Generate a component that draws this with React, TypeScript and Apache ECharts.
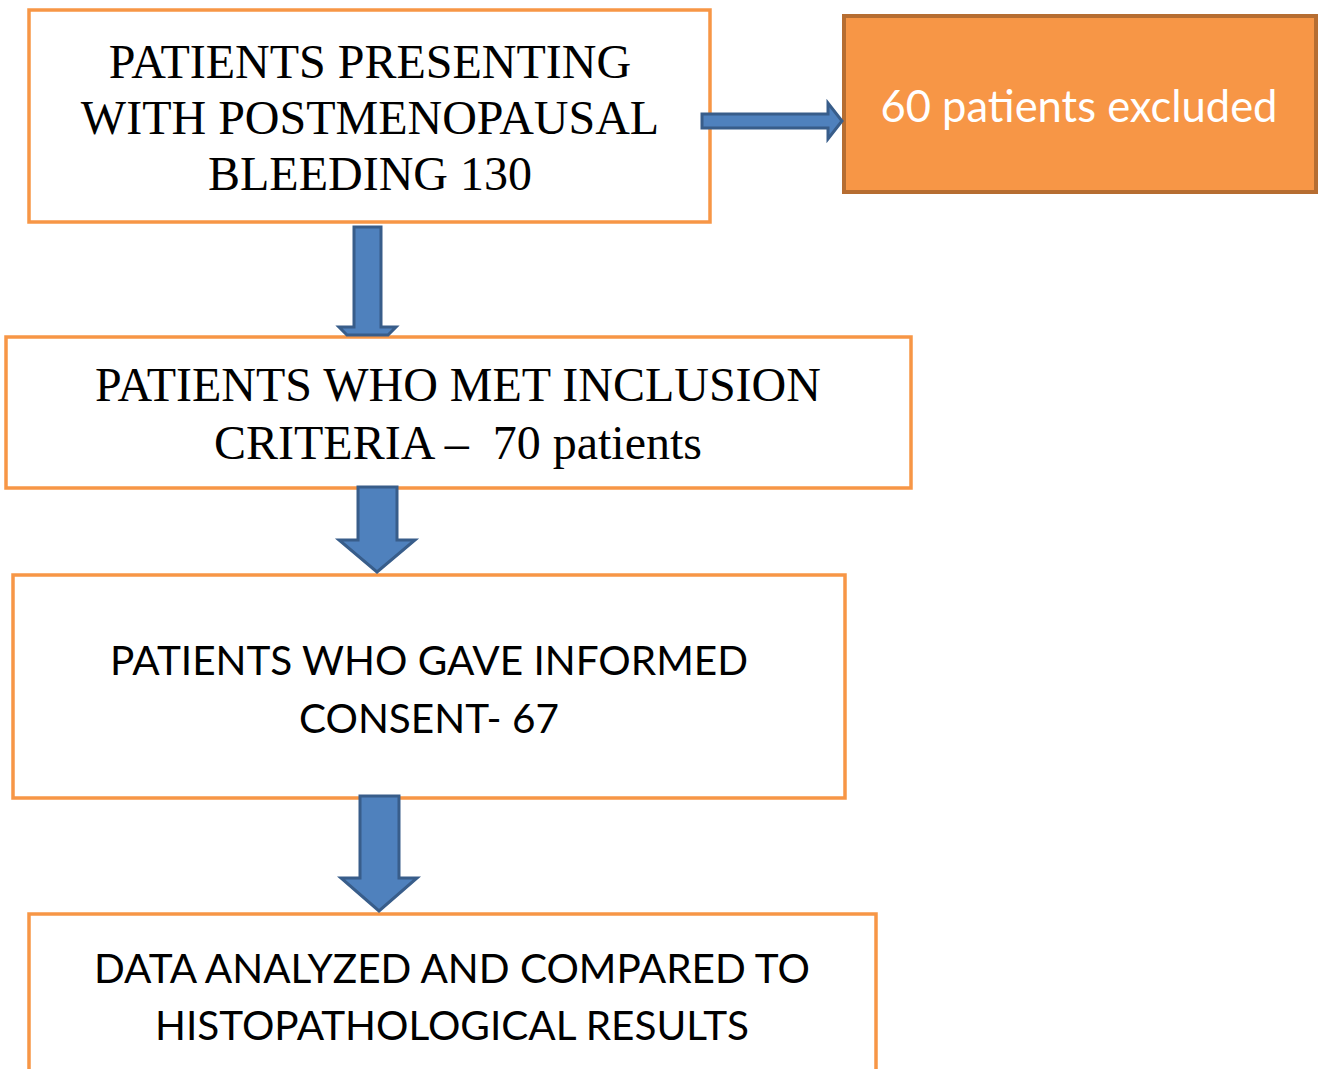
import React, { useEffect, useRef } from "react";
import * as echarts from "echarts";

// Flowchart content
const boxTitles: string[][] = [
  ["PATIENTS PRESENTING", "WITH POSTMENOPAUSAL", "BLEEDING 130"],
  ["60 patients excluded"],
  ["PATIENTS WHO MET INCLUSION", "CRITERIA \u2013  70 patients"],
  ["PATIENTS WHO GAVE INFORMED", "CONSENT- 67"],
  ["DATA ANALYZED AND COMPARED TO", "HISTOPATHOLOGICAL RESULTS"],
];
const patientCounts: number[] = [130, 60, 70, 67];

// layout (positions / styles)
const boxRects = [
  { x: 29, y: 10, w: 681, h: 212, fill: "#ffffff", stroke: "#F79646", lw: 3.5 },
  { x: 844, y: 16, w: 472, h: 176, fill: "#F79646", stroke: "#B66D31", lw: 4 },
  { x: 6, y: 337, w: 905, h: 151, fill: "#ffffff", stroke: "#F79646", lw: 3.5 },
  { x: 13, y: 575, w: 832, h: 223, fill: "#ffffff", stroke: "#F79646", lw: 3.5 },
  { x: 29, y: 914, w: 847, h: 170, fill: "#ffffff", stroke: "#F79646", lw: 3.5 },
];
const textLayout = [
  { cx: 370, ys: [61, 117, 173], font: "'Liberation Serif', 'Times New Roman', serif", size: 48, color: "#000" },
  { cx: 1079, ys: [105], font: "Lato, Carlito, Calibri, sans-serif", size: 43.5, color: "#ffffff" },
  { cx: 458, ys: [384, 442], font: "'Liberation Serif', 'Times New Roman', serif", size: 48, color: "#000" },
  { cx: 429, ys: [659, 717], font: "Lato, Carlito, Calibri, sans-serif", size: 40.5, color: "#000" },
  { cx: 452, ys: [967, 1024], font: "Lato, Carlito, Calibri, sans-serif", size: 40.5, color: "#000" },
];
const arrows: number[][][] = [
  [[702, 114], [828, 114], [828, 103], [842, 121], [828, 139], [828, 128], [702, 128]],
  [[354, 227], [381, 227], [381, 327], [396, 327], [388, 335], [347, 335], [339, 327], [354, 327]],
  [[358, 487], [397, 487], [397, 540], [415, 540], [377, 572], [339, 540], [358, 540]],
  [[360, 796], [399, 796], [399, 878], [417, 878], [379, 911], [341, 878], [360, 878]],
];

export default function App() {
  const ref = useRef<HTMLDivElement>(null);
  useEffect(() => {
    if (!ref.current) return;
    const chart = echarts.init(ref.current, null, { renderer: "svg" });
    const elements: any[] = [];
    boxRects.forEach((b) => {
      elements.push({
        type: "rect",
        shape: { x: b.x, y: b.y, width: b.w, height: b.h },
        style: { fill: b.fill, stroke: b.stroke, lineWidth: b.lw },
        z: 1,
      });
    });
    arrows.forEach((pts) => {
      elements.push({
        type: "polygon",
        shape: { points: pts },
        style: { fill: "#4F81BD", stroke: "#385D8A", lineWidth: 3, lineJoin: "miter" },
        z: 2,
      });
    });
    boxTitles.forEach((lines, i) => {
      const t = textLayout[i];
      lines.forEach((line, j) => {
        elements.push({
          type: "text",
          x: t.cx,
          y: t.ys[j],
          style: {
            text: line,
            fill: t.color,
            font: `${t.size}px ${t.font}`,
            textAlign: "center",
            textVerticalAlign: "middle",
          },
          z: 3,
        });
      });
    });
    chart.setOption({
      animation: false,
      backgroundColor: "#ffffff",
      graphic: { elements },
    });
    void patientCounts;
    return () => chart.dispose();
  }, []);
  return (
    <div
      ref={ref}
      style={{ position: "fixed", left: 0, top: 0, width: 1324, height: 1069 }}
    />
  );
}
